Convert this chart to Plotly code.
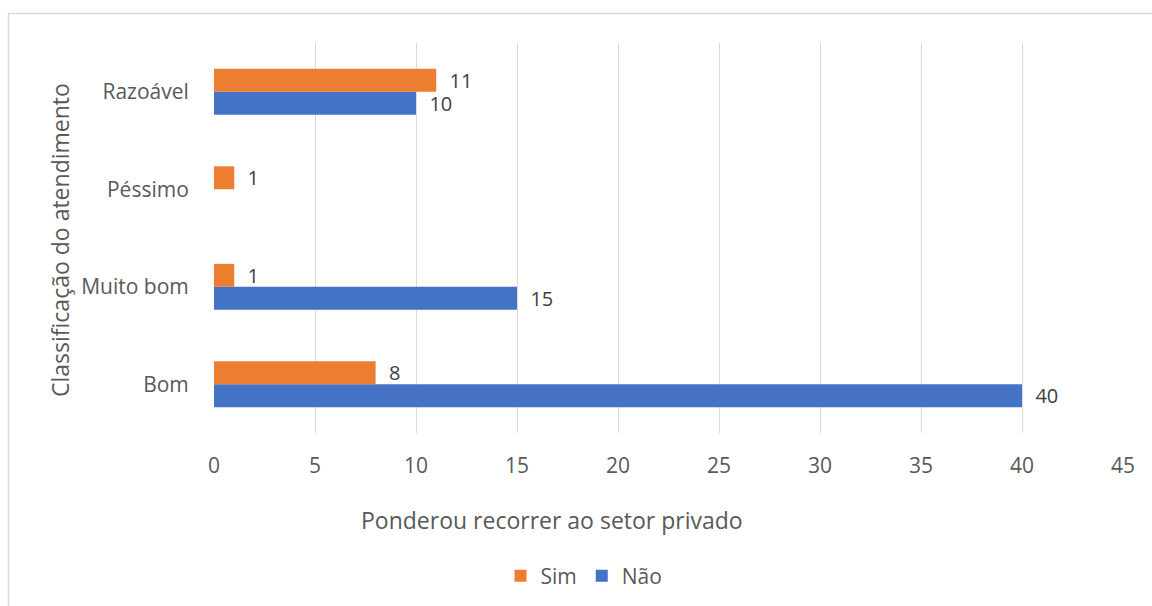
import plotly.graph_objects as go

categories = ["Bom", "Muito bom", "Péssimo", "Razoável"]
sim_values = [8, 1, 1, 11]
nao_values = [40, 15, 0, 10]
x_ticks = [0, 5, 10, 15, 20, 25, 30, 35, 40, 45]

W, H = 1152, 606
L, R, T, B = 214, 29, 43, 173
pw, ph = W - L - R, H - T - B

def px_x(p):
    return (p - L) / pw

def px_y(p):
    return (H - B - p) / ph

FONT = "Open Sans"
TXT = "#595959"

def labels(vals):
    return ["  " + str(v) if v != 0 else "" for v in vals]

fig = go.Figure()
fig.add_trace(go.Bar(
    y=categories, x=nao_values, name="Não", orientation="h",
    marker=dict(color="#4472C4", line=dict(width=0)),
    text=labels(nao_values), textposition="outside", cliponaxis=False,
    constraintext="none",
    textfont=dict(family=FONT, size=20, color="#404040"),
))
fig.add_trace(go.Bar(
    y=categories, x=sim_values, name="Sim", orientation="h",
    marker=dict(color="#ED7D31", line=dict(width=0)),
    text=labels(sim_values), textposition="outside", cliponaxis=False,
    constraintext="none",
    textfont=dict(family=FONT, size=20, color="#404040"),
))

fig.update_layout(
    width=W, height=H,
    margin=dict(l=L, r=R, t=T, b=B, pad=0),
    paper_bgcolor="white", plot_bgcolor="white",
    barmode="group", bargap=0.53, bargroupgap=0,
    font=dict(family=FONT, size=21, color=TXT),
    showlegend=True,
    legend=dict(orientation="h", traceorder="reversed",
                xref="container", yref="container",
                x=584 / W, xanchor="center", y=1 - 576 / H, yanchor="middle",
                font=dict(family=FONT, size=21, color=TXT),
                itemwidth=30),
    xaxis=dict(range=[0, 45], tickvals=x_ticks, showgrid=True,
               gridcolor="#D9D9D9", gridwidth=1, zeroline=False,
               showline=False, ticks="outside", ticklen=14, tickcolor="rgba(0,0,0,0)",
               tickfont=dict(family=FONT, size=21, color=TXT)),
    yaxis=dict(showgrid=False, zeroline=False, showline=False,
               ticks="outside", ticklen=20, tickcolor="rgba(0,0,0,0)",
               tickfont=dict(family=FONT, size=21, color=TXT)),
    annotations=[
        dict(text="Ponderou recorrer ao setor privado", xref="paper", yref="paper",
             x=px_x(552), y=px_y(520), xanchor="center", yanchor="middle",
             showarrow=False, font=dict(family=FONT, size=23, color=TXT)),
        dict(text="Classificação do atendimento", xref="paper", yref="paper",
             x=px_x(60), y=px_y(240), xanchor="center", yanchor="middle",
             textangle=-90, showarrow=False,
             font=dict(family=FONT, size=23, color=TXT)),
    ],
    shapes=[
        dict(type="rect", xref="paper", yref="paper",
             x0=px_x(8.5), x1=px_x(1170), y0=px_y(13.5), y1=px_y(640),
             line=dict(color="#D9D9D9", width=1.5), fillcolor="rgba(0,0,0,0)",
             layer="below"),
    ],
)

fig.write_html("out.html")
